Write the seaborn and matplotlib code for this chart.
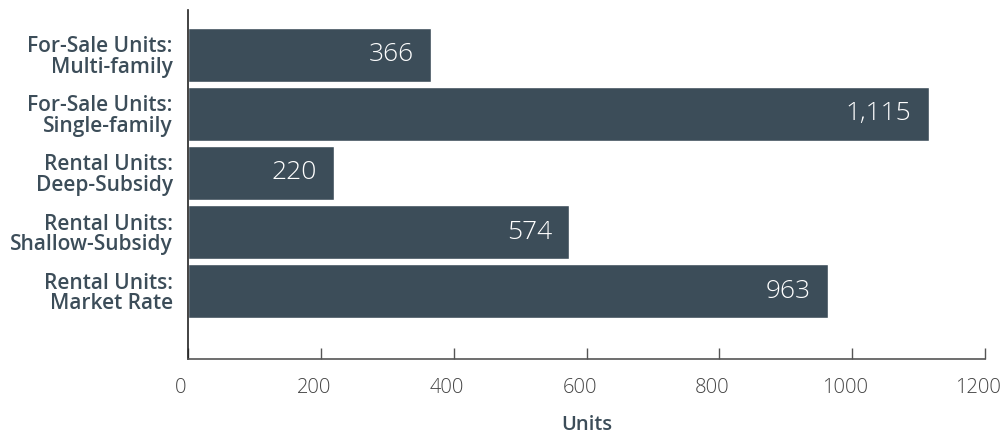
import matplotlib
matplotlib.use("Agg")
import matplotlib.pyplot as plt
import matplotlib.transforms as mtransforms
import seaborn as sns
import pandas as pd

categories = [
    "For-Sale Units:\nMulti-family",
    "For-Sale Units:\nSingle-family",
    "Rental Units:\nDeep-Subsidy",
    "Rental Units:\nShallow-Subsidy",
    "Rental Units:\nMarket Rate",
]
units = [366, 1115, 220, 574, 963]
x_ticks = [0, 200, 400, 600, 800, 1000, 1200]

BAR = "#3c4d59"
TEXT = "#3c4d59"

sns.set_theme(style="white")
plt.rcParams["font.family"] = ["Open Sans", "DejaVu Sans"]

df = pd.DataFrame({"category": categories, "units": units})

fig = plt.figure(figsize=(10.05, 4.34), dpi=100)
ax = fig.add_axes([188 / 1005, 1 - 359 / 434, (985 - 188) / 1005, (359 - 10) / 434])

sns.barplot(data=df, y="category", x="units", orient="h", color=BAR,
            saturation=1, width=0.91, ax=ax)

ax.set_xlim(0, 1200)
ax.set_ylim(5.15, -0.76)
ax.set_xticks(x_ticks)
ax.set_xticklabels([str(t) for t in x_ticks], fontsize=14.5, fontweight="light", color="#444444")
ax.tick_params(axis="x", bottom=True, direction="in", length=8, width=1, color="#555555", pad=14)
ax.tick_params(axis="y", left=False, length=0, pad=11)
for lab in ax.get_yticklabels():
    lab.set_fontsize(15)
    lab.set_fontweight("semibold")
    lab.set_color(TEXT)
    lab.set_linespacing(0.95)
    lab.set_horizontalalignment("right")

offset = mtransforms.ScaledTranslation(-7 / 100, 0, fig.dpi_scale_trans)
for lab in ax.get_xticklabels():
    lab.set_transform(lab.get_transform() + offset)

ax.set_ylabel("")
ax.set_xlabel("Units", fontsize=14.5, fontweight="semibold", color=TEXT, labelpad=12)

for spine in ["top", "right"]:
    ax.spines[spine].set_visible(False)
ax.spines["left"].set_color("#222222")
ax.spines["left"].set_linewidth(1.2)
ax.spines["bottom"].set_color("#555555")
ax.spines["bottom"].set_linewidth(1.2)

for i, v in enumerate(units):
    ax.annotate(f"{v:,}", xy=(v, i), xytext=(-17, 0), textcoords="offset pixels",
                ha="right", va="center", color="white", fontsize=19,
                fontweight="light")

fig.savefig("out.png", dpi=100)
